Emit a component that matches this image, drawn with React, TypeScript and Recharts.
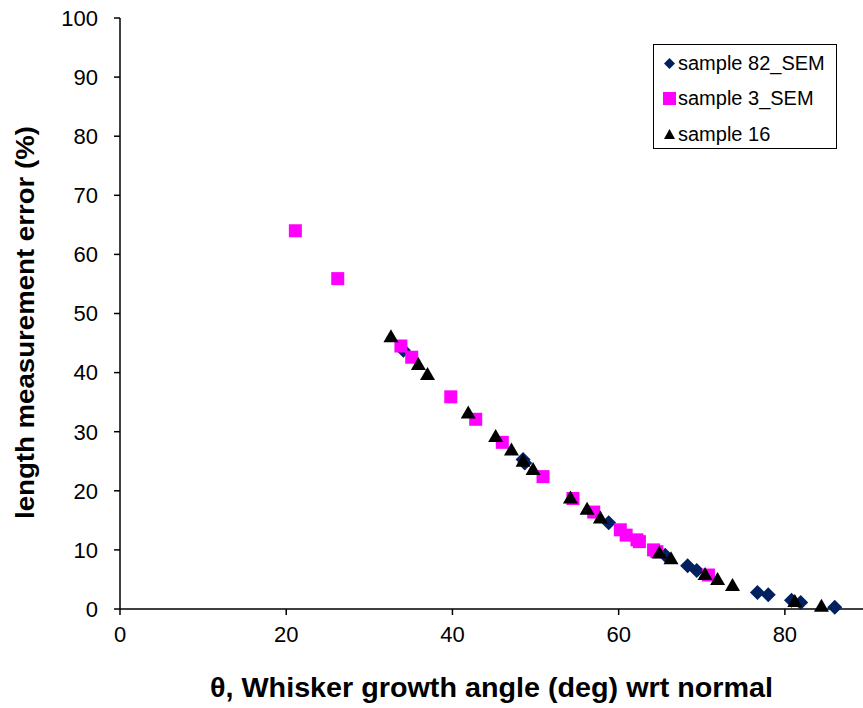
import React from 'react';
import { ScatterChart, Scatter, XAxis, YAxis, Label } from 'recharts';

// sample 82_SEM (navy diamonds)
const s82X = [34.1, 48.5, 48.7, 58.8, 65.6, 68.3, 69.4, 76.7, 78.0, 80.8, 81.9, 86.0];
const s82Y = [43.8, 25.3, 24.7, 14.6, 9.1, 7.3, 6.5, 2.8, 2.4, 1.5, 1.1, 0.3];

// sample 3_SEM (magenta squares)
const s3X = [21.1, 26.2, 33.8, 35.1, 39.8, 42.8, 46.0, 50.9, 54.5, 57.0, 60.2, 60.9, 62.2, 62.5, 64.2, 64.6, 70.8];
const s3Y = [64.0, 55.9, 44.5, 42.6, 35.9, 32.1, 28.2, 22.4, 18.7, 16.4, 13.4, 12.5, 11.7, 11.4, 10.0, 9.7, 5.75];

// sample 16 (black triangles)
const s16X = [32.6, 35.9, 37.0, 41.9, 45.2, 47.1, 48.5, 49.7, 54.2, 56.2, 57.8, 64.9, 66.3, 70.4, 71.9, 73.7, 81.2, 84.4];
const s16Y = [46.0, 41.3, 39.6, 33.1, 29.1, 26.8, 24.9, 23.5, 18.7, 16.8, 15.3, 9.4, 8.4, 5.75, 4.9, 3.9, 1.2, 0.4];

const xTicks = [0, 20, 40, 60, 80];
const yTicks = [0, 10, 20, 30, 40, 50, 60, 70, 80, 90, 100];

const zip = (xs: number[], ys: number[]) => xs.map((x, i) => ({ x, y: ys[i] }));

const NAVY = '#002060';
const PINK = '#FF00FF';
const FONT = '"Liberation Sans", Arial, sans-serif';

const Diamond = ({ cx, cy }: any) => (
  <path d={`M${cx},${cy - 7.5}L${cx + 7.5},${cy}L${cx},${cy + 7.5}L${cx - 7.5},${cy}Z`} fill={NAVY} />
);
const Square = ({ cx, cy }: any) => <rect x={cx - 6.5} y={cy - 6.5} width={13} height={13} fill={PINK} />;
const Triangle = ({ cx, cy }: any) => (
  <path d={`M${cx},${cy - 8}L${cx + 7.5},${cy + 5}L${cx - 7.5},${cy + 5}Z`} fill="#000" />
);

const legendItems = [
  { name: 'sample 82_SEM', mark: <path d="M6.5,1L12,6.5L6.5,12L1,6.5Z" fill={NAVY} /> },
  { name: 'sample 3_SEM', mark: <rect x={0} y={0} width={13} height={13} fill={PINK} /> },
  { name: 'sample 16', mark: <path d="M6.5,1L12,11L1,11Z" fill="#000" /> },
];

const LegendBox = () => (
  <div
    style={{
      position: 'absolute',
      left: 653,
      top: 44,
      width: 184,
      height: 105,
      border: '1px solid #000',
      background: '#fff',
      fontFamily: FONT,
      fontSize: 20,
      color: '#000',
      boxSizing: 'border-box',
      paddingTop: 1,
    }}
  >
    {legendItems.map((it, i) => (
      <div
        key={it.name}
        style={{ display: 'flex', alignItems: 'center', height: i === 0 ? 34 : 36, paddingLeft: 9, whiteSpace: 'nowrap' }}
      >
        <svg width={14} height={13} style={{ marginRight: 1 }}>
          {it.mark}
        </svg>
        <span>{it.name}</span>
      </div>
    ))}
  </div>
);

export default function App() {
  return (
    <div style={{ position: 'absolute', left: 0, top: 0, width: 863, height: 708, background: '#fff' }}>
      <ScatterChart width={863} height={708} margin={{ top: 18, right: 0, bottom: 0, left: 0 }}>
        <XAxis
          type="number"
          dataKey="x"
          domain={[0, 89.4]}
          ticks={xTicks}
          allowDataOverflow
          height={99}
          stroke="#000"
          strokeWidth={1.5}
          tickSize={6}
          tickMargin={11}
          tick={{ fill: '#000', fontSize: 22, fontFamily: FONT }}
        >
          <Label
            value="θ, Whisker growth angle (deg) wrt normal"
            content={({ viewBox }: any) => (
              <text
                x={viewBox.x + viewBox.width / 2}
                y={viewBox.y + viewBox.height - 11}
                textAnchor="middle"
                textLength={563}
                lengthAdjust="spacingAndGlyphs"
                style={{ fontWeight: 'bold', fontSize: 27, fontFamily: FONT, fill: '#000' }}
              >
                θ, Whisker growth angle (deg) wrt normal
              </text>
            )}
          />
        </XAxis>
        <YAxis
          type="number"
          dataKey="y"
          domain={[0, 100]}
          ticks={yTicks}
          width={120}
          stroke="#000"
          strokeWidth={1.5}
          tickSize={6}
          tickMargin={16}
          tick={{ fill: '#000', fontSize: 22, fontFamily: FONT }}
        >
          <Label
            value="length measurement error (%)"
            content={({ viewBox }: any) => (
              <text
                x={0}
                y={0}
                transform={`translate(${viewBox.x + 34},${viewBox.y + viewBox.height / 2 + 9}) rotate(-90)`}
                textAnchor="middle"
                textLength={393}
                lengthAdjust="spacingAndGlyphs"
                style={{ fontWeight: 'bold', fontSize: 26, fontFamily: FONT, fill: '#000' }}
              >
                length measurement error (%)
              </text>
            )}
          />
        </YAxis>
        <Scatter name="sample 82_SEM" data={zip(s82X, s82Y)} fill={NAVY} shape={<Diamond />} isAnimationActive={false} />
        <Scatter name="sample 3_SEM" data={zip(s3X, s3Y)} fill={PINK} shape={<Square />} isAnimationActive={false} />
        <Scatter name="sample 16" data={zip(s16X, s16Y)} fill="#000" shape={<Triangle />} isAnimationActive={false} />
      </ScatterChart>
      <LegendBox />
    </div>
  );
}
